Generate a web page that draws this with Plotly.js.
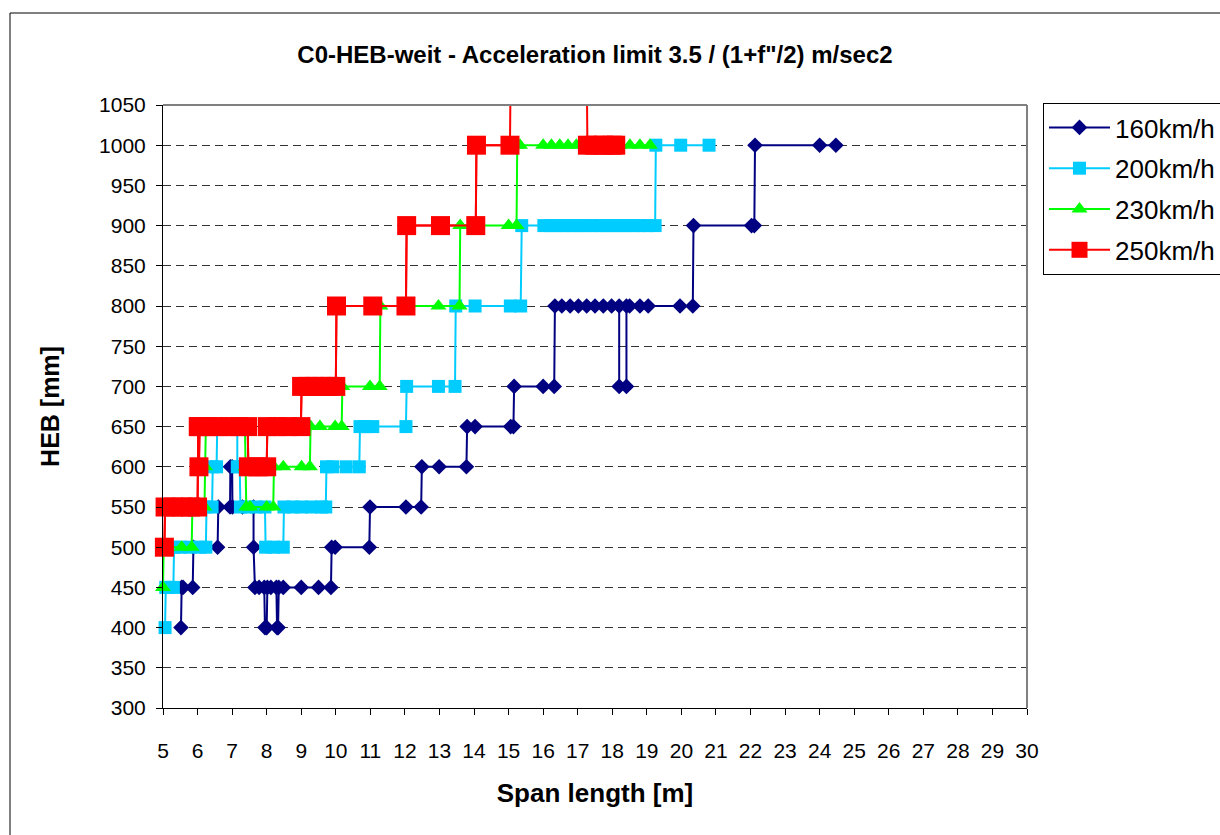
<!DOCTYPE html>
<html>
<head>
<meta charset="utf-8">
<script src="https://cdn.plot.ly/plotly-3.0.1.min.js"></script>
<style>
  html, body { margin:0; padding:0; background:#fff; }
  #chart { width:1220px; height:835px; }
</style>
</head>
<body>
<div id="chart"></div>
<script>
// ---------------- data (span length [m], HEB [mm]) ----------------
const seriesNames = ['160km/h', '200km/h', '230km/h', '250km/h'];

const span160 = [5.52,5.54,5.58,5.86,5.88,6.58,6.60,6.94,6.95,7.00,7.01,7.30,7.62,7.62,7.66,7.78,7.93,7.95,8.00,8.02,8.12,8.28,8.30,8.33,8.35,8.48,9.00,9.50,9.86,9.88,9.98,10.97,10.99,12.03,12.47,12.49,12.99,13.78,13.80,14.03,15.06,15.14,15.16,16.00,16.32,16.34,16.54,16.78,17.02,17.26,17.50,17.74,17.98,18.20,18.20,18.41,18.41,18.50,18.80,19.04,19.96,20.33,20.35,22.03,22.11,22.13,24.00,24.47];
const heb160  = [400,450,450,450,500,500,550,550,600,600,550,550,550,500,450,450,450,400,400,450,450,450,400,400,450,450,450,450,450,500,500,500,550,550,550,600,600,600,650,650,650,650,700,700,700,800,800,800,800,800,800,800,800,800,700,700,800,800,800,800,800,800,900,900,900,1000,1000,1000];

const span200 = [5.06,5.08,5.15,5.30,5.32,5.50,5.78,6.07,6.24,6.26,6.42,6.44,6.55,6.57,6.85,7.15,7.15,7.22,7.24,7.45,7.70,7.95,7.97,8.20,8.48,8.50,8.75,9.01,9.30,9.59,9.71,9.73,9.91,10.30,10.68,10.70,10.85,11.07,12.03,12.05,12.97,13.45,13.47,14.03,15.05,15.35,15.38,16.02,16.22,16.42,16.62,16.82,17.02,17.22,17.42,17.62,17.82,18.02,18.22,18.42,18.62,18.82,19.02,19.24,19.26,19.98,20.80];
const heb200  = [400,450,450,450,500,500,500,500,500,550,550,600,600,650,650,650,600,600,550,550,550,550,500,500,500,550,550,550,550,550,550,600,600,600,600,650,650,650,650,700,700,700,800,800,800,800,900,900,900,900,900,900,900,900,900,900,900,900,900,900,900,900,900,900,1000,1000,1000];

const span230 = [5.00,5.02,5.54,5.83,5.85,6.00,6.20,6.22,6.24,6.60,7.00,7.37,7.39,7.41,7.52,8.00,8.19,8.21,8.48,9.01,9.25,9.27,9.54,9.98,10.17,10.19,10.99,11.27,11.29,12.97,13.58,13.60,15.00,15.23,15.25,15.33,16.00,16.24,16.48,16.72,16.96,17.20,17.45,17.70,17.95,18.20,18.51,18.80,19.09];
const heb230  = [450,500,500,500,550,550,550,600,650,650,650,650,600,550,550,550,550,600,600,600,600,650,650,650,650,700,700,700,800,800,800,900,900,900,1000,1000,1000,1000,1000,1000,1000,1000,1000,1000,1000,1000,1000,1000,1000];

const span250 = [5.04,5.06,5.30,5.55,5.80,6.00,6.02,6.04,6.06,6.30,6.60,6.90,7.20,7.45,7.47,7.75,8.00,8.02,8.30,8.60,8.99,9.01,9.20,9.40,9.60,9.80,10.00,10.02,11.07,12.03,12.05,13.03,14.05,14.07,15.04,15.06,17.26,17.28,17.50,17.75,18.00,18.10];
const heb250  = [500,550,550,550,550,550,650,600,650,650,650,650,650,650,600,600,600,650,650,650,650,700,700,700,700,700,700,800,800,800,900,900,900,1000,1000,1100,1100,1000,1000,1000,1000,1000];

// ---------------- chart ----------------
const FONT = 'Liberation Sans, Arial, sans-serif';
const colors = ['#000080', '#00CCFF', '#00FF00', '#FF0000'];
const symbols = ['diamond', 'square', 'triangle-up', 'square'];
const sizes = [12, 13, 14, 19];
const xs = [span160, span200, span230, span250];
const ys = [heb160, heb200, heb230, heb250];
const yMax = 1050;

const traces = [];
// red line including values beyond the axis top (line clipped by plot area)
traces.push({
  x: span250, y: heb250, type: 'scatter', mode: 'lines',
  line: {color: colors[3], width: 2}, showlegend: false, hoverinfo: 'skip'
});
for (let i = 0; i < 4; i++) {
  const yy = ys[i].map(v => v > yMax ? null : v);
  traces.push({
    x: xs[i], y: yy, name: seriesNames[i], type: 'scatter', mode: 'lines+markers',
    legendgroup: 'g' + i,
    line: {color: colors[i], width: 2},
    marker: {symbol: symbols[i], size: sizes[i], color: colors[i], line: {width: 0}},
    cliponaxis: false, connectgaps: false
  });
}

const L = 163, R = 1027, T = 105, B = 708;
const px2x = p => (p - L) / (R - L);
const py2y = p => (B - p) / (B - T);

const layout = {
  width: 1220, height: 835,
  margin: {l: L, r: 1220 - R, t: T, b: 835 - B, pad: 0, autoexpand: false},
  paper_bgcolor: '#fff', plot_bgcolor: '#fff',
  font: {family: FONT, color: '#000'},
  title: {
    text: '<b>C0-HEB-weit - Acceleration limit 3.5 / (1+f"/2) m/sec2</b>',
    font: {size: 24, family: FONT, color: '#000'},
    x: 595 / 1220, xanchor: 'center', xref: 'container',
    y: 1 - 55 / 835, yanchor: 'middle', yref: 'container'
  },
  xaxis: {
    range: [5, 30], tick0: 5, dtick: 1, showgrid: false, zeroline: false,
    showline: true, linecolor: '#000', linewidth: 1,
    ticks: 'outside', ticklen: 6, tickcolor: '#000', tickwidth: 1,
    ticklabelstandoff: 18,
    tickfont: {size: 21, family: FONT, color: '#000'},
    title: {text: '<b>Span length [m]</b>', font: {size: 26, family: FONT, color: '#000'}, standoff: 22},
    automargin: false
  },
  yaxis: {
    range: [300, 1050], tick0: 300, dtick: 50, showgrid: true,
    gridcolor: '#333', gridwidth: 1, griddash: '8px,5px', zeroline: false,
    showline: true, linecolor: '#000', linewidth: 1,
    ticks: 'outside', ticklen: 6, tickcolor: '#000', tickwidth: 1,
    ticklabelstandoff: 6,
    tickfont: {size: 21, family: FONT, color: '#000'},
    title: {text: '<b>HEB [mm]</b>', font: {size: 25, family: FONT, color: '#000'}, standoff: 32},
    automargin: false
  },
  legend: {
    x: px2x(1043), xanchor: 'left', y: py2y(103), yanchor: 'top',
    bgcolor: '#fff', bordercolor: '#000', borderwidth: 1,
    font: {size: 26, family: FONT, color: '#000'},
    traceorder: 'grouped', tracegroupgap: 4, itemwidth: 61
  },
  shapes: [
    // plot area top / right border (grey)
    {type: 'line', xref: 'paper', yref: 'paper', x0: 0, x1: 1, y0: 1, y1: 1, line: {color: '#808080', width: 2}},
    {type: 'line', xref: 'paper', yref: 'paper', x0: 1, x1: 1, y0: 0, y1: 1, line: {color: '#808080', width: 2}},
    // outer chart frame
    {type: 'rect', xref: 'paper', yref: 'paper', x0: px2x(10), x1: px2x(1240), y0: py2y(850), y1: py2y(13), line: {color: '#000', width: 1}, fillcolor: 'rgba(0,0,0,0)', layer: 'below'}
  ],
  showlegend: true
};

Plotly.newPlot('chart', traces, layout, {displayModeBar: false, staticPlot: true});
</script>
</body>
</html>
